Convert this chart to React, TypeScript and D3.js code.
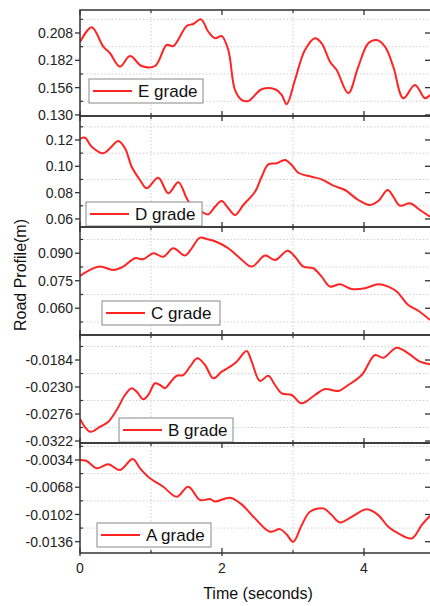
import React from "react";
import * as d3 from "d3";

// road profile samples (time in s, profile in m)
const timeE = [0, 0.165, 0.328, 0.423, 0.563, 0.704, 0.869, 1.056, 1.221, 1.314, 1.503, 1.596, 1.704, 1.807, 1.901, 1.996, 2.089, 2.183, 2.277, 2.37, 2.559, 2.746, 2.841, 2.911, 3.028, 3.169, 3.31, 3.404, 3.521, 3.615, 3.779, 3.92, 4.061, 4.179, 4.296, 4.413, 4.554, 4.718, 4.859, 4.93];
const gradeE = [0.1994, 0.2134, 0.195, 0.1887, 0.176, 0.1861, 0.1766, 0.1766, 0.1966, 0.1956, 0.2147, 0.2166, 0.221, 0.2092, 0.203, 0.2051, 0.1918, 0.1538, 0.1443, 0.1433, 0.1545, 0.1545, 0.149, 0.1402, 0.1633, 0.1918, 0.203, 0.1982, 0.1807, 0.1728, 0.1507, 0.176, 0.1982, 0.2013, 0.195, 0.176, 0.1459, 0.1585, 0.1459, 0.149];

const timeD = [0, 0.07, 0.165, 0.328, 0.423, 0.539, 0.634, 0.728, 0.845, 0.939, 1.103, 1.244, 1.385, 1.503, 1.592, 1.69, 1.807, 1.901, 1.996, 2.089, 2.183, 2.3, 2.465, 2.559, 2.652, 2.77, 2.887, 2.982, 3.075, 3.263, 3.404, 3.568, 3.732, 3.92, 4.085, 4.201, 4.334, 4.413, 4.507, 4.648, 4.789, 4.93];
const gradeD = [0.1208, 0.1217, 0.1149, 0.1099, 0.1137, 0.1192, 0.1137, 0.0997, 0.0896, 0.0833, 0.0913, 0.0795, 0.0879, 0.0757, 0.0683, 0.066, 0.0635, 0.0693, 0.0736, 0.0681, 0.063, 0.0706, 0.0807, 0.0921, 0.1015, 0.1023, 0.1048, 0.101, 0.0951, 0.0921, 0.0901, 0.0853, 0.082, 0.0744, 0.0706, 0.0736, 0.082, 0.0769, 0.0701, 0.0719, 0.0668, 0.0617];

const timeC = [0, 0.141, 0.282, 0.469, 0.61, 0.775, 0.892, 1.032, 1.173, 1.314, 1.479, 1.573, 1.69, 1.784, 1.901, 2.089, 2.254, 2.418, 2.606, 2.746, 2.925, 3.028, 3.145, 3.286, 3.404, 3.521, 3.662, 3.827, 4.014, 4.201, 4.342, 4.461, 4.624, 4.765, 4.93];
const gradeC = [0.0776, 0.0809, 0.0827, 0.0809, 0.0827, 0.0873, 0.0867, 0.09, 0.0881, 0.0927, 0.0887, 0.0927, 0.0985, 0.0978, 0.0965, 0.0927, 0.0873, 0.0827, 0.0887, 0.0863, 0.0913, 0.0881, 0.0827, 0.0818, 0.0772, 0.0718, 0.0731, 0.0705, 0.0709, 0.0731, 0.0718, 0.0691, 0.0618, 0.0586, 0.0536];

const timeB = [0, 0.141, 0.282, 0.399, 0.517, 0.634, 0.728, 0.799, 0.892, 0.962, 1.056, 1.127, 1.197, 1.268, 1.362, 1.455, 1.549, 1.652, 1.761, 1.877, 1.996, 2.113, 2.207, 2.348, 2.418, 2.535, 2.652, 2.746, 2.841, 2.982, 3.123, 3.31, 3.451, 3.638, 3.779, 3.968, 4.155, 4.272, 4.461, 4.624, 4.789, 4.93];
const gradeB = [-0.02845, -0.03062, -0.02977, -0.02891, -0.02692, -0.02436, -0.02322, -0.0238, -0.0251, -0.02436, -0.02237, -0.02266, -0.02322, -0.02227, -0.02108, -0.02096, -0.01954, -0.01811, -0.01925, -0.02152, -0.02039, -0.01954, -0.01869, -0.01687, -0.01869, -0.02198, -0.02108, -0.02266, -0.02407, -0.02436, -0.02578, -0.02436, -0.02334, -0.02368, -0.02266, -0.02096, -0.01755, -0.01801, -0.0163, -0.01726, -0.01869, -0.01913];

const timeA = [0, 0.094, 0.235, 0.399, 0.563, 0.742, 0.845, 0.986, 1.173, 1.362, 1.525, 1.69, 1.831, 1.901, 2.113, 2.277, 2.465, 2.676, 2.817, 2.911, 3.004, 3.123, 3.239, 3.427, 3.545, 3.662, 3.827, 4.038, 4.201, 4.342, 4.483, 4.672, 4.813, 4.93];
const gradeA = [-0.0034, -0.00353, -0.00444, -0.00394, -0.00465, -0.00328, -0.00444, -0.00569, -0.00674, -0.00799, -0.00674, -0.0084, -0.00828, -0.00859, -0.00811, -0.00894, -0.01069, -0.01236, -0.01203, -0.01269, -0.01361, -0.01153, -0.00986, -0.00944, -0.01028, -0.01119, -0.01049, -0.00956, -0.01028, -0.01174, -0.01256, -0.01319, -0.01153, -0.01036];

const ticksE = [0.13, 0.156, 0.182, 0.208];
const ticksD = [0.06, 0.08, 0.1, 0.12];
const ticksC = [0.06, 0.075, 0.09];
const ticksB = [-0.0322, -0.0276, -0.023, -0.0184];
const ticksA = [-0.0136, -0.0102, -0.0068, -0.0034];

const timeTicks = [0, 2, 4];
const timeMinor = [1, 3];

const W = 430;
const H = 606;
const plotLeft = 80;
const plotRight = 431;
const tMax = 4.93;
const edges = [10, 116, 227, 335, 443, 553];
const red = "#ff2424";
const font = "'Liberation Sans', Arial, sans-serif";

const fmt = d3.formatLocale({ decimal: ".", thousands: ",", grouping: [3], currency: ["", ""], minus: "-" }).format;

const panels = [
  { name: "E grade", time: timeE, values: gradeE, domain: [0.129, 0.2299], ticks: ticksE, f: ".3f", lx: 89, ly: 69, lw: 114 },
  { name: "D grade", time: timeD, values: gradeD, domain: [0.0539, 0.1382], ticks: ticksD, f: ".2f", lx: 86, ly: 86, lw: 116 },
  { name: "C grade", time: timeC, values: gradeC, domain: [0.0454, 0.1043], ticks: ticksC, f: ".3f", lx: 102, ly: 74, lw: 118 },
  { name: "B grade", time: timeB, values: gradeB, domain: [-0.03254, -0.01414], ticks: ticksB, f: ".4f", lx: 119, ly: 83, lw: 114 },
  { name: "A grade", time: timeA, values: gradeA, domain: [-0.01501, -0.00128], ticks: ticksA, f: ".4f", lx: 97, ly: 80, lw: 114 },
];

const x = d3.scaleLinear().domain([0, tMax]).range([plotLeft, 430]);

function Panel({ p, i }) {
  const top = edges[i];
  const bottom = edges[i + 1];
  const last = i === panels.length - 1;
  const y = d3.scaleLinear().domain(p.domain).range([bottom, top]);
  const step = p.ticks[1] - p.ticks[0];
  const minor = [p.ticks[0] - step / 2, ...p.ticks.map((v) => v + step / 2)].filter(
    (v) => v >= p.domain[0] && v <= p.domain[1]
  );
  const line = d3
    .line()
    .x((d) => x(d[0]))
    .y((d) => y(d[1]))
    .curve(d3.curveCatmullRom.alpha(0.5));
  const pts = p.time.map((t, k) => [t, p.values[k]]);
  const id = "clip" + i;
  const ly = top + p.ly;

  return (
    <g>
      <clipPath id={id}>
        <rect x={plotLeft} y={top} width={plotRight - plotLeft} height={bottom - top} />
      </clipPath>
      {minor.map((v) => (
        <line key={"gy" + v} x1={plotLeft} x2={plotRight} y1={y(v)} y2={y(v)} stroke="#cfcfcf" strokeDasharray="1.5,2" />
      ))}
      {timeMinor.map((t) => (
        <line key={"gx" + t} x1={x(t)} x2={x(t)} y1={top} y2={bottom} stroke="#cfcfcf" strokeDasharray="1.5,2" />
      ))}
      <path d={line(pts)} fill="none" stroke={red} strokeWidth={2} clipPath={`url(#${id})`} />
      <rect x={plotLeft} y={top} width={plotRight - plotLeft} height={bottom - top} fill="none" stroke="#333" strokeWidth={1.5} />
      {p.ticks.map((v) => (
        <g key={"t" + v}>
          <line x1={plotLeft - 5} x2={plotLeft} y1={y(v)} y2={y(v)} stroke="#333" strokeWidth={1.3} />
          <line x1={425} x2={430} y1={y(v)} y2={y(v)} stroke="#333" strokeWidth={1.3} />
          <text x={73} y={y(v)} dy="0.36em" textAnchor="end" fontSize={14} fill="#222" fontFamily={font}>
            {fmt(p.f)(v)}
          </text>
        </g>
      ))}
      {minor.map((v) => (
        <line key={"m" + v} x1={plotLeft} x2={plotLeft + 3} y1={y(v)} y2={y(v)} stroke="#333" strokeWidth={1.2} />
      ))}
      {timeTicks.map((t) => (
        <g key={"xt" + t}>
          <line x1={x(t)} x2={x(t)} y1={top} y2={top + 5} stroke="#333" strokeWidth={1.3} />
          <line x1={x(t)} x2={x(t)} y1={bottom - 5} y2={last ? bottom + 3 : bottom} stroke="#333" strokeWidth={1.3} />
        </g>
      ))}
      {timeMinor.map((t) => (
        <g key={"xm" + t}>
          <line x1={x(t)} x2={x(t)} y1={top} y2={top + 3} stroke="#333" strokeWidth={1.2} />
          <line x1={x(t)} x2={x(t)} y1={bottom - 3} y2={bottom} stroke="#333" strokeWidth={1.2} />
        </g>
      ))}
      <rect x={p.lx} y={ly} width={p.lw} height={24} fill="#fff" stroke="#888" strokeWidth={1} />
      <line x1={p.lx + 4} x2={p.lx + 43} y1={ly + 12} y2={ly + 12} stroke={red} strokeWidth={2} />
      <text x={p.lx + 49} y={ly + 18} fontSize={17} fill="#111" fontFamily={font}>
        {p.name}
      </text>
    </g>
  );
}

export default function App() {
  return (
    <svg width={W} height={H} style={{ position: "absolute", left: 0, top: 0, background: "#fff" }}>
      {panels.map((p, i) => (
        <Panel key={p.name} p={p} i={i} />
      ))}
      {timeTicks.map((t) => (
        <text key={t} x={x(t)} y={573} textAnchor="middle" fontSize={14} fill="#222" fontFamily={font}>
          {t}
        </text>
      ))}
      <text x={258} y={599} textAnchor="middle" fontSize={16} fill="#111" fontFamily={font}>
        Time (seconds)
      </text>
      <text transform="translate(26,275) rotate(-90)" textAnchor="middle" fontSize={16} fill="#111" fontFamily={font}>
        Road Profile(m)
      </text>
    </svg>
  );
}
